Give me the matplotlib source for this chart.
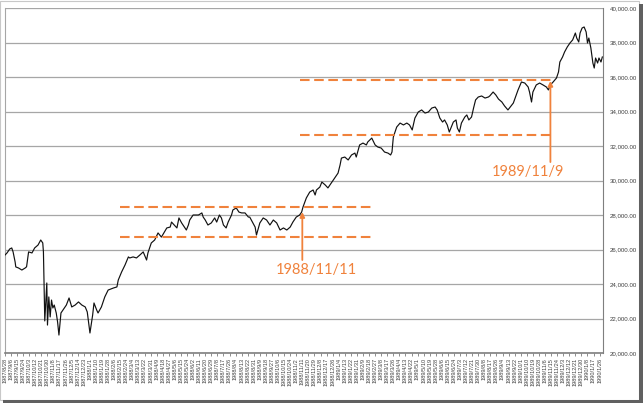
import matplotlib
matplotlib.use("Agg")
import matplotlib.pyplot as plt
from matplotlib.patches import Rectangle
import pandas as pd

dates = [
    "1987-08-28", "1987-08-31", "1987-09-04", "1987-09-07", "1987-09-09", "1987-09-12", "1987-09-13",
    "1987-09-17", "1987-09-22", "1987-09-27", "1987-09-29", "1987-10-02", "1987-10-07", "1987-10-11",
    "1987-10-16", "1987-10-20", "1987-10-23", "1987-10-24", "1987-10-25", "1987-10-26", "1987-10-29",
    "1987-10-30", "1987-11-01", "1987-11-03", "1987-11-05", "1987-11-07", "1987-11-09", "1987-11-12",
    "1987-11-14", "1987-11-16", "1987-11-19", "1987-11-22", "1987-11-27", "1987-12-01", "1987-12-05",
    "1987-12-10", "1987-12-15", "1987-12-20", "1987-12-25", "1987-12-28", "1988-01-01", "1988-01-05",
    "1988-01-07", "1988-01-11", "1988-01-13", "1988-01-18", "1988-01-23", "1988-01-28", "1988-02-05",
    "1988-02-10", "1988-02-12", "1988-02-17", "1988-02-22", "1988-02-27", "1988-02-29", "1988-03-05",
    "1988-03-10", "1988-03-15", "1988-03-20", "1988-03-25", "1988-03-27", "1988-04-01", "1988-04-06",
    "1988-04-11", "1988-04-16", "1988-04-24", "1988-04-29", "1988-05-01", "1988-05-05", "1988-05-09",
    "1988-05-12", "1988-05-16", "1988-05-20", "1988-05-23", "1988-05-26", "1988-05-28", "1988-06-02",
    "1988-06-10", "1988-06-15", "1988-06-17", "1988-06-20", "1988-06-24", "1988-06-29", "1988-07-04",
    "1988-07-07", "1988-07-11", "1988-07-14", "1988-07-17", "1988-07-21", "1988-07-24", "1988-07-27",
    "1988-07-29", "1988-07-31", "1988-08-05", "1988-08-09", "1988-08-13", "1988-08-18", "1988-08-23",
    "1988-08-25", "1988-08-29", "1988-09-02", "1988-09-04", "1988-09-09", "1988-09-14", "1988-09-19",
    "1988-09-24", "1988-09-29", "1988-10-04", "1988-10-09", "1988-10-14", "1988-10-19", "1988-10-24",
    "1988-10-28", "1988-11-02", "1988-11-07", "1988-11-10", "1988-11-12", "1988-11-17", "1988-11-22",
    "1988-11-27", "1988-11-30", "1988-12-02", "1988-12-07", "1988-12-10", "1988-12-15", "1988-12-19",
    "1988-12-24", "1988-12-29", "1989-01-03", "1989-01-06", "1989-01-08", "1989-01-13", "1989-01-18",
    "1989-01-23", "1989-01-28", "1989-01-30", "1989-02-02", "1989-02-04", "1989-02-09", "1989-02-14",
    "1989-02-16", "1989-02-22", "1989-02-27", "1989-03-03", "1989-03-08", "1989-03-13", "1989-03-18",
    "1989-03-22", "1989-03-24", "1989-03-26", "1989-03-28", "1989-03-31", "1989-04-05", "1989-04-10",
    "1989-04-15", "1989-04-19", "1989-04-23", "1989-04-27", "1989-05-02", "1989-05-07", "1989-05-12",
    "1989-05-17", "1989-05-22", "1989-05-27", "1989-05-30", "1989-06-03", "1989-06-07", "1989-06-10",
    "1989-06-14", "1989-06-17", "1989-06-20", "1989-06-23", "1989-06-27", "1989-06-29", "1989-07-02",
    "1989-07-05", "1989-07-10", "1989-07-13", "1989-07-16", "1989-07-20", "1989-07-23", "1989-07-26",
    "1989-07-30", "1989-08-04", "1989-08-09", "1989-08-14", "1989-08-16", "1989-08-21", "1989-08-25",
    "1989-08-29", "1989-09-03", "1989-09-07", "1989-09-12", "1989-09-20", "1989-09-27", "1989-10-02",
    "1989-10-07", "1989-10-12", "1989-10-14", "1989-10-17", "1989-10-19", "1989-10-24", "1989-10-29",
    "1989-11-03", "1989-11-08", "1989-11-11", "1989-11-14", "1989-11-18", "1989-11-23", "1989-11-26",
    "1989-11-28", "1989-12-02", "1989-12-05", "1989-12-09", "1989-12-13", "1989-12-17", "1989-12-21",
    "1989-12-23", "1989-12-26", "1989-12-28", "1989-12-31", "1990-01-03", "1990-01-06", "1990-01-08",
    "1990-01-10", "1990-01-13", "1990-01-16", "1990-01-18", "1990-01-20", "1990-01-23", "1990-01-25",
    "1990-01-28", "1990-01-30",
]
closes = [
    25680, 25800, 26030, 26090, 25860, 25280, 24990,
    24930, 24810, 24930, 25000, 25860, 25800, 26090,
    26260, 26550, 26380, 25860, 23940, 21860, 24060,
    21620, 23250, 22090, 23070, 22610, 22780, 22320,
    21800, 21040, 22320, 22490, 22780, 23190, 22670,
    22780, 22960, 22780, 22670, 22380, 21160, 22200,
    22900, 22490, 22320, 22670, 23250, 23650, 23770,
    23830, 24230, 24700, 25100, 25570, 25510, 25570,
    25510, 25680, 25860, 25390, 25800, 26380, 26550,
    26960, 26720, 27250, 27300, 27590, 27420, 27250,
    27830, 27540, 27300, 27130, 27420, 27710, 28000,
    28000, 28120, 27880, 27710, 27420, 27540, 27830,
    27590, 28000, 27830, 27420, 27250, 27590, 27830,
    28000, 28290, 28410, 28170, 28120, 28120, 27880,
    27880, 27590, 27300, 26840, 27540, 27830, 27710,
    27420, 27710, 27540, 27130, 27250, 27130, 27300,
    27590, 27880, 28000, 28170, 28460, 28990, 29330,
    29450, 29160, 29450, 29620, 29910, 29740, 29570,
    29860, 30140, 30430, 30900, 31300, 31360, 31190,
    31480, 31590, 31360, 31770, 32060, 32170, 32060,
    32230, 32460, 32060, 31940, 31880, 31650, 31590,
    31480, 31650, 32520, 32750, 33100, 33330, 33220,
    33330, 33220, 32930, 33620, 33970, 34090, 33910,
    33970, 34200, 34260, 34090, 33620, 33390, 33510,
    33220, 32810, 33100, 33390, 33510, 33040, 32810,
    33330, 33680, 33800, 33510, 33680, 34200, 34670,
    34840, 34900, 34780, 34840, 34900, 35130, 34960,
    34720, 34550, 34320, 34090, 34490, 35250, 35710,
    35650, 35420, 35130, 34550, 35130, 35540, 35650,
    35540, 35420, 35250, 35540, 35710, 35940, 36290,
    36870, 37160, 37450, 37740, 37970, 38150, 38550,
    38260, 38030, 38550, 38840, 38900, 38610, 37970,
    38260, 37680, 36810, 36520, 37100, 36810, 37100,
    36870, 37160,
]

# support / resistance bands (value, start, end)
band_levels = [28450, 26700, 35850, 32650]
band_starts = ["1988-02-14", "1988-02-14", "1988-11-07", "1988-11-07"]
band_ends = ["1989-02-24", "1989-02-22", "1989-11-19", "1989-11-19"]

notes = ["1988/11/11", "1989/11/9"]
arrow_dates = ["1988-11-11", "1989-11-14"]
arrow_tops = [28170, 35770]
arrow_bottoms = [25390, 31070]
note_dates = ["1988-12-02", "1989-10-12"]
note_values = [24810, 30490]

yticks = list(range(20000, 40001, 2000))
tick_dates = pd.date_range("1987-08-28", "1990-01-31", freq="9D")
tick_labels = [f"{d.year}/{d.month}/{d.day}" for d in tick_dates]

orange = "#F0823C"
x = pd.to_datetime(dates)

fig = plt.figure(figsize=(6.44, 4.03), dpi=100)
ax = fig.add_axes([5 / 644, 1 - 353 / 403, 598 / 644, 345 / 403])

for v in yticks:
    ax.axhline(v, color="#a6a6a6", lw=0.9, zorder=1)

ax.plot(x, closes, color="#111111", lw=0.85, zorder=3)

for v, s, e in zip(band_levels, band_starts, band_ends):
    ax.plot(pd.to_datetime([s, e]), [v, v], color=orange, lw=1.5,
            dashes=(4.6, 2.2), zorder=4)

for t, ad, top, bot, nd, nv in zip(notes, arrow_dates, arrow_tops, arrow_bottoms,
                                  note_dates, note_values):
    ad = pd.Timestamp(ad)
    ax.annotate("", xy=(ad, top), xytext=(ad, bot),
                arrowprops=dict(arrowstyle="-|>", color=orange, lw=1.3,
                                mutation_scale=7, shrinkA=0, shrinkB=0), zorder=5)
    ax.text(pd.Timestamp(nd), nv, t, color=orange, fontsize=10.5, family="Lato",
            ha="center", va="center", zorder=5)

ax.set_ylim(20000, 40000)
ax.set_xlim(pd.Timestamp("1987-08-28"), pd.Timestamp("1990-01-31"))
ax.yaxis.tick_right()
ax.set_yticks(yticks)
ax.set_yticklabels([f"{v:,.2f}" for v in yticks], fontsize=4.4,
                   family="Liberation Sans", color="#404040")
ax.tick_params(axis="y", length=0, pad=5)

ax.set_xticks(tick_dates)
ax.set_xticklabels(tick_labels, rotation=90, fontsize=4.1,
                   family="Liberation Sans", color="#404040")
ax.tick_params(axis="x", length=2, width=0.5, color="#606060", pad=1.5)

ax.spines["top"].set_visible(False)
ax.spines["left"].set_color("#a6a6a6")
ax.spines["right"].set_color("#7f7f7f")
ax.spines["bottom"].set_color("#7f7f7f")
ax.spines["bottom"].set_linewidth(1.2)

# picture frame with drop shadow
fig.patches.append(Rectangle((0, 0.008), 0.992, 0.99, transform=fig.transFigure,
                             fill=False, edgecolor="#c8c8c8", lw=0.8))
fig.patches.append(Rectangle((0.993, 0.0), 0.005, 0.99, transform=fig.transFigure,
                             facecolor="#606060", edgecolor="none"))
fig.patches.append(Rectangle((0.004, 0.0), 0.994, 0.007, transform=fig.transFigure,
                             facecolor="#606060", edgecolor="none"))

fig.savefig("out.png", dpi=100)
